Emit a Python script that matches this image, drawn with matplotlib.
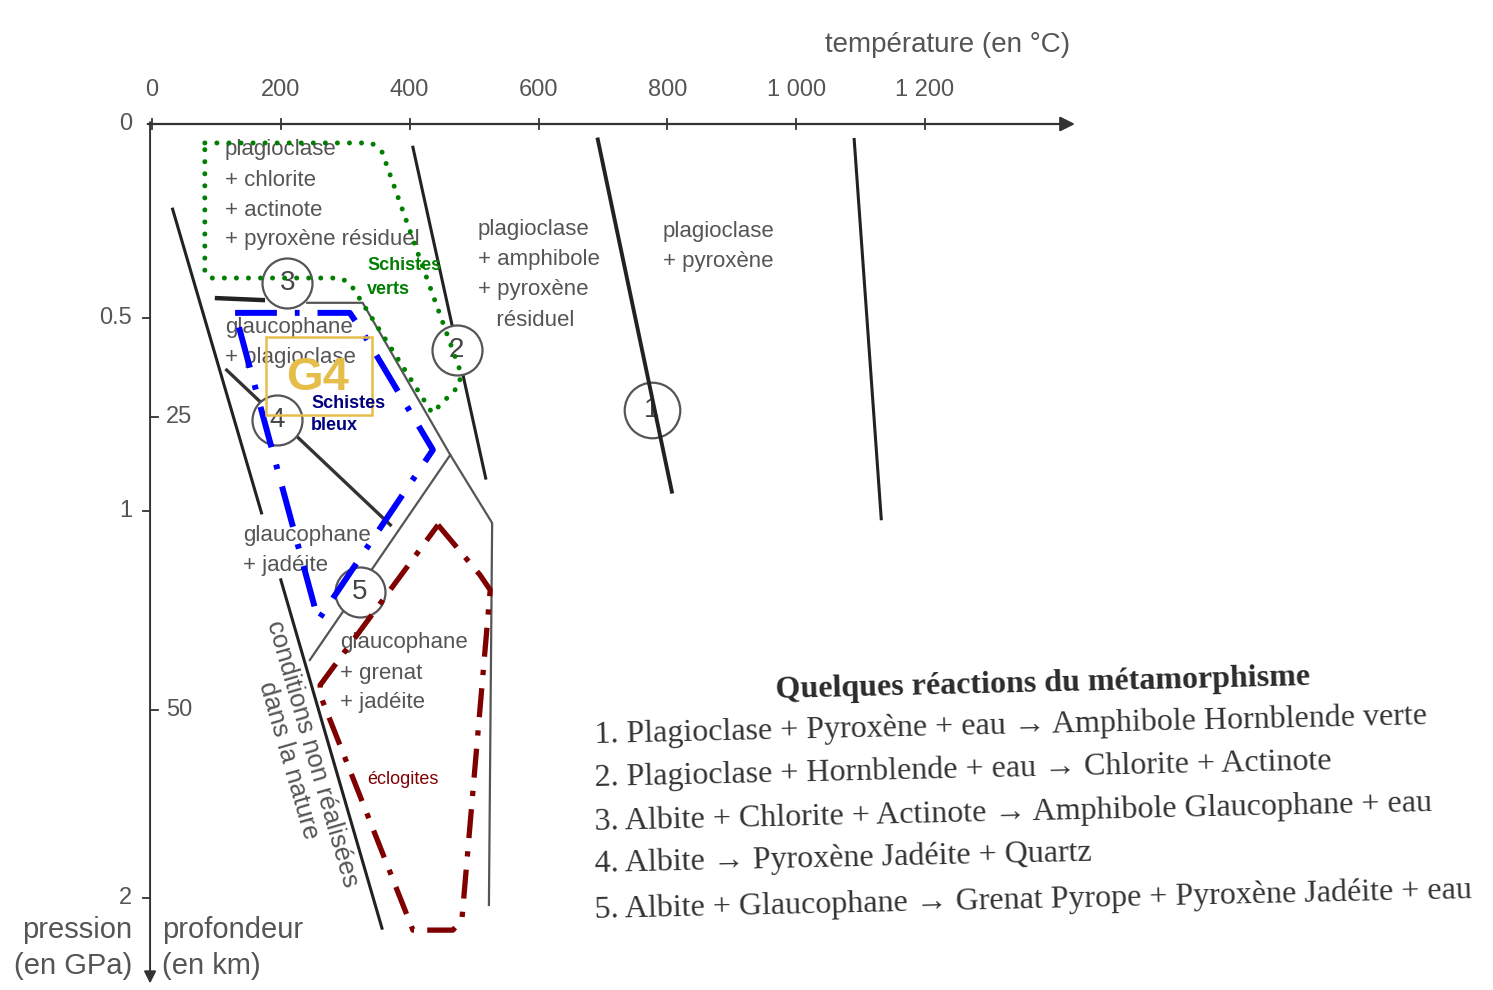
"""Metamorphism P-T diagram (schistes verts / bleus / eclogites) redrawn with matplotlib."""

import matplotlib

matplotlib.use("Agg")
import matplotlib.pyplot as plt  # noqa: E402

W, H = 1493, 990

# axes
temp_ticks = [0, 200, 400, 600, 800, 1000, 1200]
temp_labels = ["0", "200", "400", "600", "800", "1 000", "1 200"]
pres_ticks = [0, 0.5, 1, 2]
pres_labels = ["0", "0.5", "1", "2"]
depth_ticks = [25, 50]
KM_PER_GPA = 33.0

# reaction boundaries (T in degC, P in GPa)
limit_up_T, limit_up_P = [32, 170], [0.22, 1.005]
limit_lo_T, limit_lo_P = [200, 357], [1.178, 2.078]
reac1_T, reac1_P = [692, 807], [0.04, 0.95]
reac2_T, reac2_P = [405, 518], [0.06, 0.915]
right_T, right_P = [1090, 1132], [0.04, 1.02]
reac3a_T, reac3a_P = [101, 172], [0.45, 0.455]
reac3b_T = [241, 327, 463, 528, 523]
reac3b_P = [0.462, 0.462, 0.855, 1.031, 2.018]
reac5_T, reac5_P = [463, 245], [0.855, 1.385]
reac4_T, reac4_P = [116, 370], [0.636, 1.036]

# reaction numbers
circle_ids = ["1", "2", "3", "4", "5"]
circle_T = [776, 473, 210, 194, 323]
circle_P = [0.739, 0.584, 0.411, 0.765, 1.209]

# facies outlines
verts_T = [82, 341, 357, 411, 478, 478, 435, 307, 292, 90, 82, 82]
verts_P = [0.049, 0.049, 0.072, 0.326, 0.636, 0.674, 0.747, 0.411, 0.398, 0.398, 0.382, 0.049]
bleus_T = [129, 307, 323, 436, 258, 134, 129]
bleus_P = [0.488, 0.488, 0.527, 0.842, 1.282, 0.519, 0.488]
eclog_T = [444, 509, 525, 481, 467, 405, 261, 261, 444]
eclog_P = [1.036, 1.165, 1.204, 2.057, 2.083, 2.083, 1.475, 1.450, 1.036]
g4_T, g4_P = [177, 341], [0.55, 0.752]

reactions = [
    "1. Plagioclase + Pyroxène + eau → Amphibole Hornblende verte",
    "2. Plagioclase + Hornblende + eau → Chlorite + Actinote",
    "3. Albite + Chlorite + Actinote → Amphibole Glaucophane + eau",
    "4. Albite → Pyroxène Jadéite + Quartz",
    "5. Albite + Glaucophane → Grenat Pyrope + Pyroxène Jadéite + eau",
]

SERIF = ["Liberation Serif", "DejaVu Serif"]
SANS = ["Liberation Sans", "DejaVu Sans"]
GREY = "#555555"
INK = "#222222"


def px(x, y):
    """pixel position of the scan -> (T, P)"""
    return (x - 152) / 0.6442, (y - 124) / 387.0


fig = plt.figure(figsize=(W / 100, H / 100), dpi=100)
ax = fig.add_axes([0, 0, 1, 1])
ax.set_xlim(px(0, 0)[0], px(W, 0)[0])
ax.set_ylim(px(0, H)[1], px(0, 0)[1])
ax.axis("off")

# axes with arrows
ax.annotate("", xy=(1437, 0), xytext=(-11, 0),
            arrowprops=dict(arrowstyle="-|>", color="#333333", lw=1.6, mutation_scale=22))
ax.annotate("", xy=(-3, 2.228), xytext=(-3, -0.012),
            arrowprops=dict(arrowstyle="-|>", color="#333333", lw=1.4, mutation_scale=18))
for t, lab in zip(temp_ticks, temp_labels):
    ax.plot([t, t], [-0.014, 0.014], color="#333333", lw=1.3)
    ax.text(t, -0.088, lab, ha="center", va="center", fontsize=17,
            family=SANS, color=GREY)
for p, lab in zip(pres_ticks, pres_labels):
    if p > 0:
        ax.plot([-14, -3], [p, p], color="#333333", lw=1.3)
    ax.text(-31, p, lab, ha="right", va="center", fontsize=17, family=SANS, color=GREY)
for d in depth_ticks:
    ax.plot([-3, 10], [d / KM_PER_GPA] * 2, color="#333333", lw=1.3)
    ax.text(22, d / KM_PER_GPA, str(d), ha="left", va="center", fontsize=17,
            family=SANS, color=GREY)

fig.text(825 / W, 1 - 45 / H, "température (en °C)", ha="left", va="center",
         fontsize=20, family=SANS, color=GREY)
fig.text(132 / W, 1 - 948 / H, "pression\n(en GPa)", ha="right", va="center",
         fontsize=21, family=SANS, color=GREY, linespacing=1.35)
fig.text(162 / W, 1 - 948 / H, "profondeur\n(en km)", ha="left", va="center",
         fontsize=21, family=SANS, color=GREY, linespacing=1.35)

# reaction lines
ax.plot(limit_up_T, limit_up_P, color=INK, lw=2.2, zorder=2)
ax.plot(limit_lo_T, limit_lo_P, color=INK, lw=2.2, zorder=2)
ax.plot(reac1_T, reac1_P, color=INK, lw=2.8, zorder=4)
ax.plot(reac2_T, reac2_P, color=INK, lw=2.2, zorder=2)
ax.plot(right_T, right_P, color=INK, lw=2.2, zorder=2)
ax.plot(reac3a_T, reac3a_P, color=INK, lw=3.2, zorder=2)
ax.plot(reac3b_T, reac3b_P, color="#555555", lw=1.6, zorder=2)
ax.plot(reac5_T, reac5_P, color="#555555", lw=1.6, zorder=2)
ax.plot(reac4_T, reac4_P, color="#333333", lw=2.4, zorder=2)

for cid, t, p in zip(circle_ids, circle_T, circle_P):
    size = 40 if cid == "1" else 36
    ax.plot(t, p, "o", ms=size, mfc="white" if cid != "1" else "none",
            mec="#555555", mew=1.6, zorder=3)
    ax.text(t, p, cid, ha="center", va="center", fontsize=20, family=SANS,
            color="#444444", zorder=3.5)

# mineral assemblages
assemblages = [
    (225, 150, ["plagioclase", "+ chlorite", "+ actinote", "+ pyroxène résiduel"]),
    (478, 230, ["plagioclase", "+ amphibole", "+ pyroxène", "   résiduel"]),
    (663, 232, ["plagioclase", "+ pyroxène"]),
    (225, 328, ["glaucophane", "+ plagioclase"]),
    (243, 536, ["glaucophane", "+ jadéite"]),
    (340, 643, ["glaucophane", "+ grenat", "+ jadéite"]),
]
for x0, y0, lines in assemblages:
    for i, line in enumerate(lines):
        ax.text(*px(x0, y0 + 30 * i), line, ha="left", va="center", fontsize=16,
                family=SANS, color=GREY, zorder=2.5)

ax.text(*px(300, 757), "conditions non réalisées\ndans la nature", rotation=-73.8,
        rotation_mode="anchor", ha="center", va="center", fontsize=18.5, family=SANS,
        color=GREY, linespacing=1.05, multialignment="center")

# facies overlays
ax.plot(verts_T, verts_P, color="#008000", lw=3.6, ls=(0, (0.01, 2.4)),
        dash_capstyle="round", zorder=6)
ax.plot(bleus_T, bleus_P, color="#0000ff", lw=4.3, ls=(0, (7, 3, 0.8, 3)), zorder=6)
ax.plot(eclog_T, eclog_P, color="#800000", lw=3.8, ls=(0, (5.5, 2.5, 1, 2.5)), zorder=6)
ax.add_patch(plt.Rectangle((g4_T[0], g4_P[0]), g4_T[1] - g4_T[0], g4_P[1] - g4_P[0],
                           fill=False, ec="#e5be4a", lw=1.8, zorder=6))
ax.text(*px(318, 378), "G4", ha="center", va="center", fontsize=34, weight="bold",
        family=SANS, color="#e5be4a", zorder=7)

ax.text(*px(367, 266), "Schistes", ha="left", va="center", fontsize=13,
        weight="bold", family=SANS, color="#008000", zorder=7)
ax.text(*px(367, 289), "verts", ha="left", va="center", fontsize=13,
        weight="bold", family=SANS, color="#008000", zorder=7)
ax.text(*px(311, 403), "Schistes", ha="left", va="center", fontsize=13,
        weight="bold", family=SANS, color="#000080", zorder=7)
ax.text(*px(311, 426), "bleux", ha="left", va="center", fontsize=13,
        weight="bold", family=SANS, color="#000080", zorder=7)
ax.text(*px(367, 780), "éclogites", ha="left", va="center", fontsize=13,
        family=SANS, color="#800000", zorder=7)

# legend of reactions
fig.text(1043 / W, 1 - 684 / H, "Quelques réactions du métamorphisme", ha="center",
         va="center", fontsize=23, weight="bold", family=SERIF, color="#2a2a2a",
         rotation=1.4, rotation_mode="anchor")
for i, line in enumerate(reactions):
    y = [735, 778, 822, 864, 910][i]
    fig.text(595 / W, 1 - y / H, line, ha="left", va="center", fontsize=23,
             family=SERIF, color="#333333", rotation=1.3, rotation_mode="anchor")

fig.savefig("out.png", dpi=100, facecolor="white")
